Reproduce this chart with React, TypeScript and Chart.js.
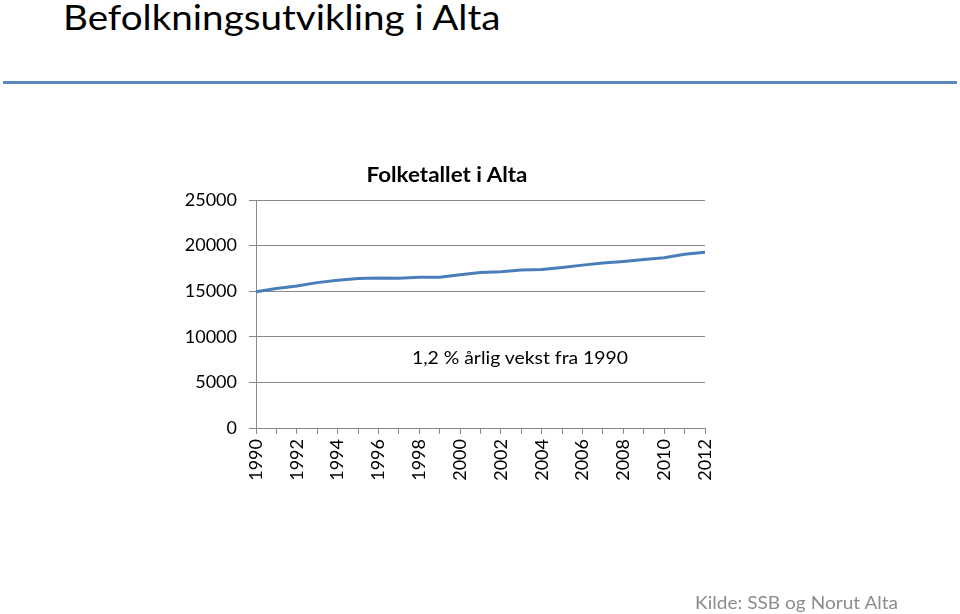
import React, { useEffect, useRef } from "react";
import { Chart, registerables } from "chart.js";

Chart.register(...registerables);

const years = [
  "1990", "1991", "1992", "1993", "1994", "1995", "1996", "1997",
  "1998", "1999", "2000", "2001", "2002", "2003", "2004", "2005",
  "2006", "2007", "2008", "2009", "2010", "2011", "2012",
];

const population = [
  14930, 15290, 15580, 15940, 16200, 16380, 16450, 16410,
  16520, 16520, 16810, 17060, 17130, 17320, 17390, 17610,
  17860, 18080, 18260, 18480, 18660, 19060, 19280,
];

const yMin = 0;
const yMax = 25000;
const yStep = 5000;

const pageTitle = "Befolkningsutvikling i Alta";
const chartTitle = "Folketallet i Alta";
const annotation = "1,2 % årlig vekst fra 1990";
const source = "Kilde: SSB og Norut Alta";

const FONT = "Lato, 'Noto Sans', sans-serif";
const GRID = "#8a8a8a";

export default function App() {
  const ref = useRef<HTMLCanvasElement | null>(null);

  useEffect(() => {
    if (!ref.current) return;
    const chart = new Chart(ref.current, {
      type: "line",
      data: {
        labels: years,
        datasets: [
          {
            data: population,
            borderColor: "#4A7EBB",
            borderWidth: 3,
            pointRadius: 0,
            tension: 0,
            fill: false,
          },
        ],
      },
      options: {
        animation: false,
        responsive: false,
        devicePixelRatio: 1,
        layout: { padding: { left: 0, right: 255, top: 200, bottom: 0 } },
        plugins: {
          legend: { display: false },
          title: { display: false },
          tooltip: { enabled: false },
        },
        scales: {
          x: {
            type: "category",
            offset: false,
            afterFit: (s: any) => {
              s.height = 186;
            },
            grid: {
              drawOnChartArea: false,
              drawTicks: true,
              tickLength: 6,
              color: GRID,
            },
            border: { display: true, color: GRID, width: 1 },
            ticks: {
              autoSkip: false,
              maxRotation: 90,
              minRotation: 90,
              padding: 5,
              color: "#000",
              font: { family: FONT, size: 18 },
              callback: (_v: any, i: number) => (i % 2 === 0 ? years[i] : ""),
            },
          },
          y: {
            min: yMin,
            max: yMax,
            afterFit: (s: any) => {
              s.width = 256;
            },
            grid: {
              drawTicks: true,
              tickLength: 7,
              color: GRID,
              lineWidth: 1,
            },
            border: { display: true, color: GRID, width: 1 },
            ticks: {
              stepSize: yStep,
              padding: 12,
              color: "#000",
              font: { family: FONT, size: 18 },
              callback: (v: any) => String(v),
            },
          },
        },
      },
    });
    return () => chart.destroy();
  }, []);

  const abs: React.CSSProperties = { position: "absolute", lineHeight: 1, whiteSpace: "nowrap", fontFamily: FONT };

  return (
    <div style={{ position: "absolute", left: 0, top: 0, width: 960, height: 614, background: "#fff", overflow: "hidden" }}>
      <div style={{ ...abs, left: 63, top: 0, fontSize: 34, color: "#000", transform: "scaleX(1.135)", transformOrigin: "left center" }}>{pageTitle}</div>
      <div style={{ position: "absolute", left: 3, top: 81, width: 954, height: 3, background: "#5B86BE" }} />
      <canvas ref={ref} width={960} height={614} style={{ position: "absolute", left: 0, top: 0 }} />
      <div style={{ ...abs, left: 447, top: 164, fontSize: 20, fontWeight: 700, color: "#000", transform: "translateX(-50%) scaleX(1.12)" }}>{chartTitle}</div>
      <div style={{ ...abs, left: 520, top: 349, fontSize: 17, color: "#000", transform: "translateX(-50%) scaleX(1.14)" }}>{annotation}</div>
      <div style={{ ...abs, left: 695, top: 593, fontSize: 18, color: "#8c8c8c", transform: "scaleX(1.06)", transformOrigin: "left center" }}>{source}</div>
    </div>
  );
}
